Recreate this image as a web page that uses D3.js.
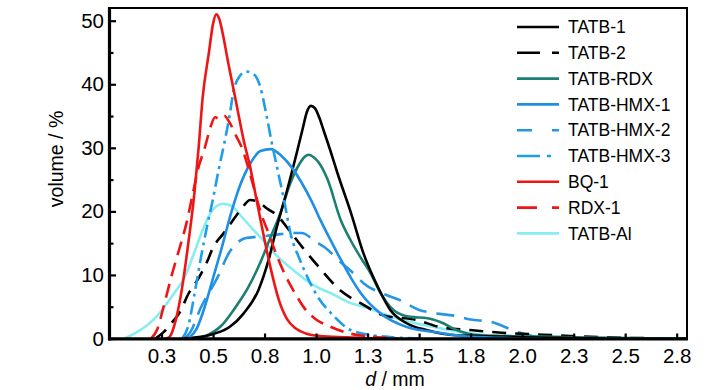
<!DOCTYPE html>
<html>
<head>
<meta charset="utf-8">
<script src="https://cdn.jsdelivr.net/npm/d3@7/dist/d3.min.js"></script>
<style>
  html, body { margin: 0; padding: 0; background: #fff; }
  svg { display: block; font-family: "Liberation Sans", Arial, sans-serif; }
</style>
</head>
<body>
<svg id="chart" width="728" height="390"></svg>
<script>
// ---------------- data ----------------
const seriesNames = ["TATB-1", "TATB-2", "TATB-RDX", "TATB-HMX-1", "TATB-HMX-2", "TATB-HMX-3", "BQ-1", "RDX-1", "TATB-Al"];

// [d (mm), volume (%)]
const tatb1 = [[0.35,0],[0.45,0.3],[0.5,0.7],[0.58,1.8],[0.65,4],[0.72,7.6],[0.77,12.4],[0.81,17.6],[0.86,23.4],[0.91,29.7],[0.935,33],[0.955,35.6],[0.975,36.6],[0.995,36.2],[1.015,34.8],[1.036,32.8],[1.07,29.5],[1.104,26],[1.17,19.7],[1.23,13.4],[1.3,8.1],[1.36,4.5],[1.44,2.4],[1.54,1.3],[1.68,0.5],[1.8,0.4],[2.0,0.2],[2.2,0.1],[2.4,0]];
const tatb2 = [[0.22,0],[0.26,1],[0.3,2.5],[0.34,4.2],[0.38,7],[0.43,9.5],[0.47,12],[0.5,14.3],[0.55,16.5],[0.59,18.3],[0.64,20.5],[0.68,21.8],[0.72,21.5],[0.76,20.5],[0.81,19.4],[0.87,17],[0.93,14.5],[1.02,11],[1.12,7.5],[1.22,5.5],[1.33,3.6],[1.49,2.9],[1.6,1.8],[1.76,1.3],[1.9,0.9],[2.1,0.6],[2.3,0.3],[2.5,0.1],[2.8,0]];
const tatbRdx = [[0.4,0],[0.47,0.5],[0.54,2],[0.6,4.5],[0.67,8],[0.73,12],[0.78,16],[0.83,20],[0.87,24],[0.92,27.5],[0.945,28.6],[0.965,28.9],[0.985,28.6],[1.01,27.8],[1.03,26.8],[1.056,25],[1.119,18.7],[1.167,15.5],[1.215,12.8],[1.264,10.3],[1.312,7.2],[1.375,4.5],[1.458,3.4],[1.54,3.2],[1.603,2.6],[1.685,1.3],[1.763,0.6],[1.9,0.4],[2.1,0.3],[2.3,0.15],[2.6,0.05],[2.8,0]];
const tatbHmx1 = [[0.38,0],[0.42,1.5],[0.46,5],[0.5,9.5],[0.54,14],[0.59,20],[0.63,24],[0.68,27.5],[0.73,29.5],[0.78,29.8],[0.83,28.8],[0.88,27],[0.93,24.5],[0.98,21.5],[1.02,18.7],[1.07,15.5],[1.12,12.4],[1.17,9.5],[1.22,7],[1.31,4],[1.44,1.8],[1.6,0.9],[1.73,0.3],[1.9,0.1],[2.1,0]];
const tatbHmx2 = [[0.36,0],[0.39,1],[0.44,4.8],[0.52,9.5],[0.58,13.6],[0.66,15.8],[0.72,16],[0.8,16.3],[0.88,16.6],[0.93,16.6],[1.0,15.2],[1.04,14.4],[1.12,12],[1.19,10],[1.23,8.7],[1.33,7],[1.41,6],[1.5,4.5],[1.57,4],[1.67,3.6],[1.75,3],[1.85,2.6],[1.98,1],[2.08,0.2],[2.2,0]];
const tatbHmx3 = [[0.35,0],[0.38,2],[0.41,7],[0.44,12.5],[0.47,17.5],[0.5,22],[0.53,27],[0.55,30],[0.58,35],[0.6,39],[0.63,41.3],[0.66,42],[0.7,41.5],[0.73,39.5],[0.76,35],[0.79,30],[0.81,27],[0.84,22.5],[0.88,16],[0.92,12.5],[0.96,9.5],[1.0,7],[1.09,3.4],[1.17,1.3],[1.3,0.4],[1.5,0]];
const bq1 = [[0.27,0],[0.29,0.3],[0.32,3],[0.35,8],[0.38,15],[0.41,23],[0.43,30],[0.45,38],[0.48,45],[0.5,49.5],[0.515,51],[0.53,50.3],[0.55,47.5],[0.57,44],[0.61,37.5],[0.65,31],[0.68,27],[0.71,22],[0.75,15.5],[0.78,11],[0.82,6],[0.86,3],[0.9,1.6],[0.95,0.8],[1.02,0.4],[1.15,0.2],[1.3,0]];
const rdx1 = [[0.2,0],[0.23,1.5],[0.26,5],[0.3,10],[0.34,14.5],[0.37,18],[0.4,22.5],[0.43,27],[0.46,30],[0.49,33.5],[0.51,34.8],[0.535,34.5],[0.555,35],[0.58,34],[0.61,32],[0.64,30],[0.67,27],[0.7,23.5],[0.73,20],[0.77,16.5],[0.81,13],[0.85,10],[0.9,7],[0.95,4.5],[1.0,3],[1.06,2],[1.15,0.9],[1.3,0.2],[1.4,0]];
const tatbAl = [[0.07,0],[0.12,0.8],[0.18,2.1],[0.23,3.6],[0.28,5.7],[0.32,7.5],[0.36,9.5],[0.41,13.6],[0.46,17.9],[0.5,20.3],[0.55,21.2],[0.6,20.6],[0.63,19.5],[0.69,17.3],[0.75,15.2],[0.81,13],[0.88,11],[0.95,9.2],[1.01,8],[1.08,7],[1.15,5.8],[1.25,4.8],[1.37,3.4],[1.57,1.8],[1.73,0.9],[1.9,0.4],[2.1,0.3],[2.4,0.1],[2.7,0]];

const seriesData = [tatb1, tatb2, tatbRdx, tatbHmx1, tatbHmx2, tatbHmx3, bq1, rdx1, tatbAl];

const xTickValues = [0.25, 0.5, 0.75, 1.0, 1.25, 1.5, 1.75, 2.0, 2.25, 2.5, 2.75];
const xTickLabels = ["0.3", "0.5", "0.8", "1.0", "1.3", "1.5", "1.8", "2.0", "2.3", "2.5", "2.8"];
const yTickValues = [0, 10, 20, 30, 40, 50];
const yMinorTickValues = [5, 15, 25, 35, 45];

// ---------------- styles ----------------
const colors = ["#000000", "#000000", "#1b7f72", "#1f8fe5", "#2596e3", "#1e9de8", "#ee1515", "#ee1515", "#86eef0"];
const plotDash = [null, "14,9", null, null, "18,10", "13,5,3,5", null, "14,8", null];
const legendDash = [null, "23,12", null, null, "15,20", "23,7,4,8", null, "20,15", null];

// ---------------- layout ----------------
const svg = d3.select("#chart");
const mLeft = 110, mRight = 687, mTop = 8, mBottom = 338.5;

const x = d3.scaleLinear().domain([0, 2.8]).range([mLeft, mRight]);
const y = d3.scaleLinear().domain([0, 52]).range([mBottom, mTop]);

svg.append("rect").attr("width", 728).attr("height", 390).attr("fill", "#fff");

svg.append("defs").append("clipPath").attr("id", "clip")
  .append("rect").attr("x", mLeft).attr("y", mTop).attr("width", mRight - mLeft).attr("height", mBottom - mTop);

// curves
const line = d3.line()
  .x(d => x(d[0]))
  .y(d => y(d[1]))
  .curve(d3.curveMonotoneX);

const order = [8, 4, 1, 2, 0, 3, 5, 7, 6];
const gCurves = svg.append("g").attr("clip-path", "url(#clip)");
order.forEach(i => {
  gCurves.append("path")
    .datum(seriesData[i])
    .attr("d", line)
    .attr("fill", "none")
    .attr("stroke", colors[i])
    .attr("stroke-width", 2.6)
    .attr("stroke-linejoin", "round")
    .attr("stroke-dasharray", plotDash[i]);
});

// frame
svg.append("rect")
  .attr("x", mLeft).attr("y", mTop)
  .attr("width", mRight - mLeft).attr("height", mBottom - mTop)
  .attr("fill", "none").attr("stroke", "#000").attr("stroke-width", 2);

// axes via d3 axes (inward ticks)
const xAxis = d3.axisBottom(x)
  .tickValues(xTickValues)
  .tickFormat((d, i) => xTickLabels[i])
  .tickSizeInner(-5).tickSizeOuter(0).tickPadding(10);
const gx = svg.append("g").attr("transform", `translate(0,${mBottom})`).call(xAxis);
gx.select(".domain").attr("stroke-width", 3.2).attr("d", `M${mLeft - 1.5},0.5H${mRight + 1}`);
gx.selectAll(".tick line").attr("stroke-width", 2.2);
gx.selectAll(".tick text").attr("font-size", 20.5).attr("fill", "#000")
  .attr("font-family", "'Liberation Sans', Arial, sans-serif");

const yAxis = d3.axisLeft(y)
  .tickValues(yTickValues)
  .tickSizeInner(-6).tickSizeOuter(0).tickPadding(6);
const gy = svg.append("g").attr("transform", `translate(${mLeft},0)`).call(yAxis);
gy.select(".domain").attr("stroke-width", 3.2).attr("d", `M-0.5,${mTop - 1}V${mBottom + 2}`);
gy.selectAll(".tick line").attr("stroke-width", 2.2);
gy.selectAll(".tick text").attr("font-size", 20.5).attr("fill", "#000")
  .attr("font-family", "'Liberation Sans', Arial, sans-serif");

const yMinor = d3.axisLeft(y).tickValues(yMinorTickValues).tickSize(-3.5).tickFormat("");
const gym = svg.append("g").attr("transform", `translate(${mLeft},0)`).call(yMinor);
gym.select(".domain").remove();
gym.selectAll(".tick line").attr("stroke-width", 2.2);

// axis titles
const xt = svg.append("text")
  .attr("x", 395).attr("y", 386)
  .attr("text-anchor", "middle")
  .attr("font-size", 19.5).attr("fill", "#000");
xt.append("tspan").attr("font-style", "italic").text("d");
xt.append("tspan").text(" / mm");

svg.append("text")
  .attr("transform", "translate(63,159) rotate(-90)")
  .attr("text-anchor", "middle")
  .attr("font-size", 19.5).attr("fill", "#000")
  .text("volume / %");

// legend
const legend = svg.append("g");
seriesNames.forEach((name, i) => {
  const cy = 27 + i * 25.8;
  legend.append("line")
    .attr("x1", 517).attr("x2", 559).attr("y1", cy).attr("y2", cy)
    .attr("stroke", colors[i]).attr("stroke-width", 2.6)
    .attr("stroke-dasharray", legendDash[i]);
  legend.append("text")
    .attr("x", 568).attr("y", cy)
    .attr("dy", "0.35em")
    .attr("font-size", 17.5).attr("fill", "#000")
    .text(name);
});
</script>
</body>
</html>
